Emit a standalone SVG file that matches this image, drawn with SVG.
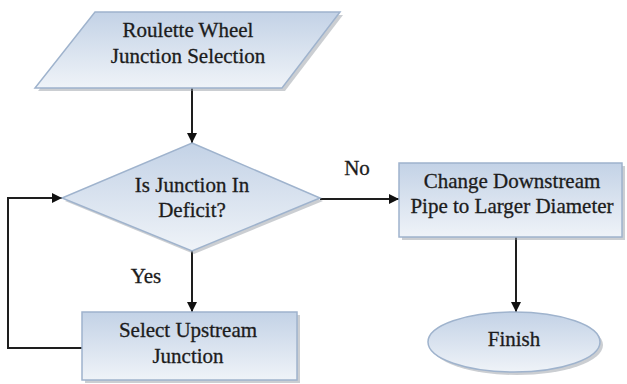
<svg xmlns="http://www.w3.org/2000/svg" width="627" height="384" viewBox="0 0 627 384">
<defs>
<linearGradient id="g" x1="0" y1="0" x2="0" y2="1">
<stop offset="0" stop-color="#c3d2e6"/>
<stop offset="1" stop-color="#eff3f8"/>
</linearGradient>
<marker id="ah" viewBox="0 0 10 10" refX="10" refY="5" markerWidth="10" markerHeight="10" markerUnits="userSpaceOnUse" orient="auto">
<path d="M0,0 L10,5 L0,10 z" fill="#111"/>
</marker>
<style>
.shape{fill:url(#g);stroke:#9fb3cd;stroke-width:1.5}
.shadow{fill:#8c939c;opacity:0.45}
.t{font-family:'Liberation Serif','DejaVu Serif',serif;font-size:21px;fill:#1c1c1c;stroke:#1c1c1c;stroke-width:0.3;text-anchor:middle}
.c{fill:none;stroke:#1e1e1e;stroke-width:2}
</style>
</defs>
<rect width="627" height="384" fill="#ffffff"/>
<g id="connectors">
<line class="c" x1="192" y1="88" x2="192" y2="143" marker-end="url(#ah)"/>
<line class="c" x1="320" y1="199" x2="399" y2="199" marker-end="url(#ah)"/>
<line class="c" x1="516" y1="237" x2="516" y2="312" marker-end="url(#ah)"/>
<line class="c" x1="192" y1="251" x2="192" y2="312" marker-end="url(#ah)"/>
<polyline class="c" points="82,348 8,348 8,198 62,198" marker-end="url(#ah)"/>
<text class="t" x="357" y="175" font-family="Liberation Serif, serif">No</text>
<text class="t" x="146" y="283" font-family="Liberation Serif, serif">Yes</text>
</g>
<g id="roulette">
<polygon class="shadow" points="98,15 343,15 285,91 38,91"/>
<polygon class="shape" points="95,12 340,12 282,88 35,88"/>
<text class="t" x="188" y="37" font-family="Liberation Serif, serif">Roulette Wheel</text>
<text class="t" x="188" y="63" font-family="Liberation Serif, serif">Junction Selection</text>
</g>
<g id="deficit">
<polygon class="shadow" points="194,146 323,201 194,254 65,201"/>
<polygon class="shape" points="192,143 320,198 192,251 62,198"/>
<text class="t" x="192" y="192" font-family="Liberation Serif, serif">Is Junction In</text>
<text class="t" x="192" y="217" font-family="Liberation Serif, serif">Deficit?</text>
</g>
<g id="change">
<rect class="shadow" x="402" y="166" width="223" height="74"/>
<rect class="shape" x="399" y="163" width="223" height="74"/>
<text class="t" x="512" y="188" font-family="Liberation Serif, serif">Change Downstream</text>
<text class="t" x="512" y="213" font-family="Liberation Serif, serif">Pipe to Larger Diameter</text>
</g>
<g id="select">
<rect class="shadow" x="85" y="315" width="215" height="68"/>
<rect class="shape" x="82" y="312" width="215" height="68"/>
<text class="t" x="188" y="337" font-family="Liberation Serif, serif">Select Upstream</text>
<text class="t" x="188" y="363" font-family="Liberation Serif, serif">Junction</text>
</g>
<g id="finish">
<ellipse class="shadow" cx="517" cy="345" rx="86" ry="30"/>
<ellipse class="shape" cx="514" cy="342" rx="86" ry="30"/>
<text class="t" x="514" y="346" font-family="Liberation Serif, serif">Finish</text>
</g>
</svg>
